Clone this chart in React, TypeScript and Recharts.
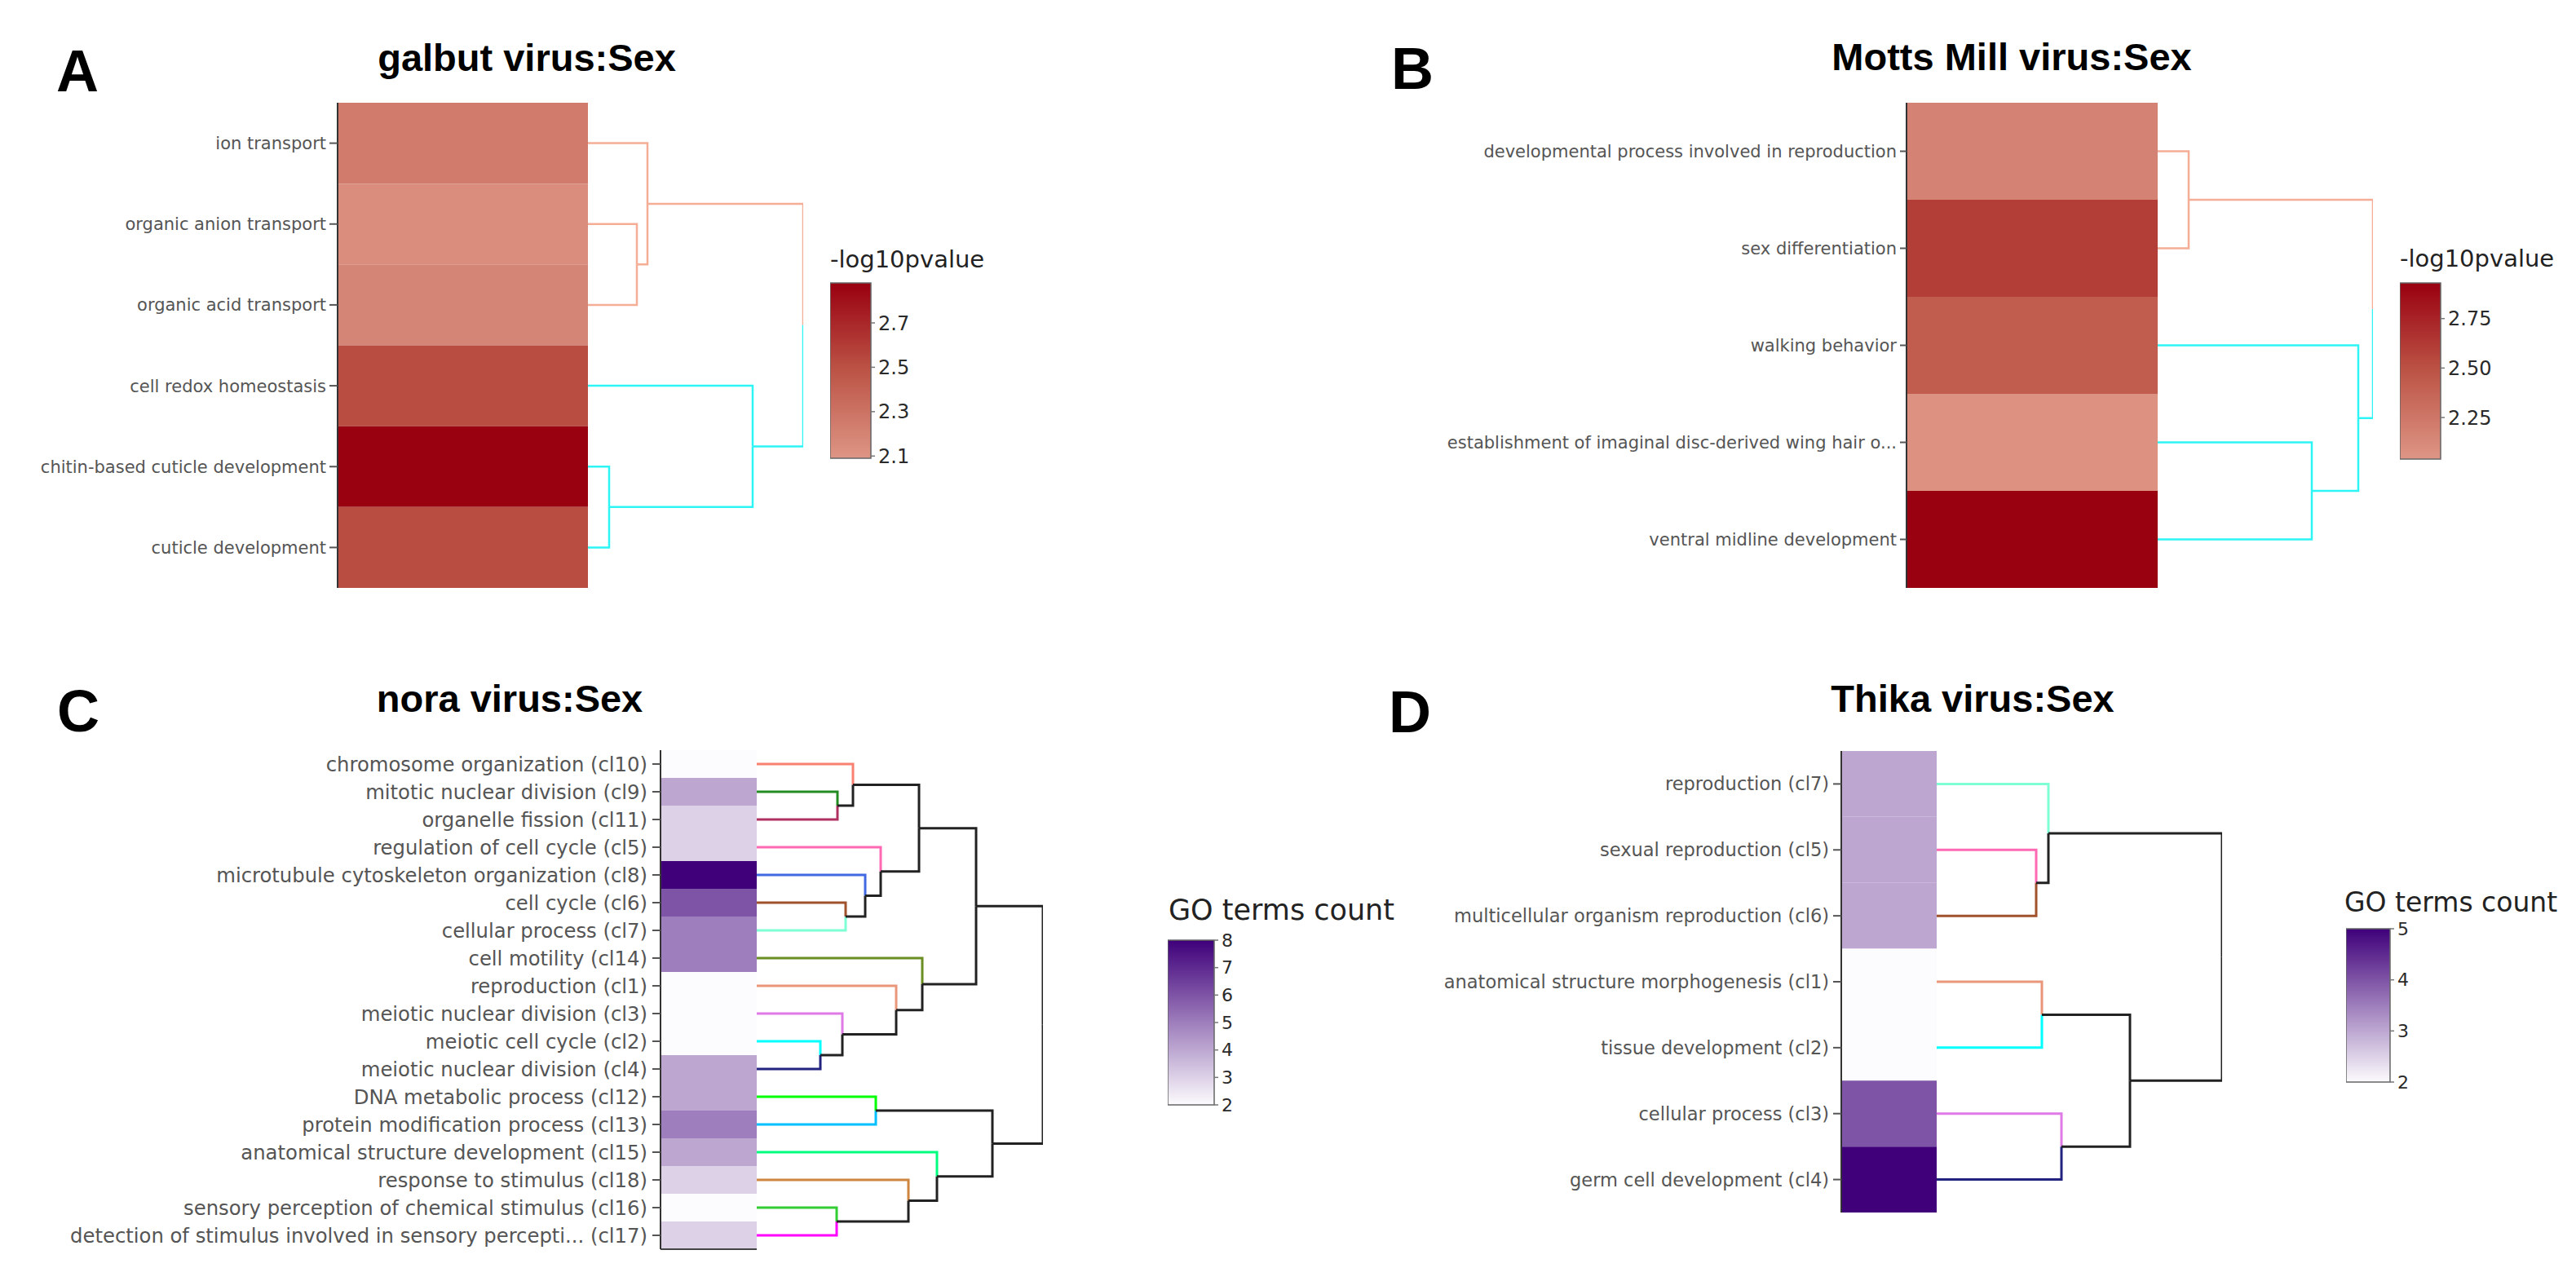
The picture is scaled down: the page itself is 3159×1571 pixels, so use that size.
import React from 'react';
import { ComposedChart, XAxis, YAxis, Line, ReferenceArea, ReferenceLine } from 'recharts';

// ---------------- Data ----------------
// Panel A: galbut virus:Sex
const galbutTerms = [
  'ion transport',
  'organic anion transport',
  'organic acid transport',
  'cell redox homeostasis',
  'chitin-based cuticle development',
  'cuticle development',
];
const galbutLog10p = [2.25, 2.14, 2.19, 2.52, 2.88, 2.52];
// merges: [childA, childB, height]; leaves 0..n-1, merge k is n+k
const galbutMerges: [number, number, number][] = [
  [1, 2, 60], [0, 6, 73], [4, 5, 26], [3, 8, 202], [7, 9, 264],
];
const galbutLeafColors = ['#F5AD96', '#F5AD96', '#F5AD96', '#2EF5F5', '#2EF5F5', '#2EF5F5'];

// Panel B: Motts Mill virus:Sex
const mottsTerms = [
  'developmental process involved in reproduction',
  'sex differentiation',
  'walking behavior',
  'establishment of imaginal disc-derived wing hair o...',
  'ventral midline development',
];
const mottsLog10p = [2.17, 2.6, 2.42, 2.07, 2.93];
const mottsMerges: [number, number, number][] = [
  [0, 1, 38], [3, 4, 189], [2, 6, 246], [5, 7, 264],
];
const mottsLeafColors = ['#F5AD96', '#F5AD96', '#2EF5F5', '#2EF5F5', '#2EF5F5'];

// Panel C: nora virus:Sex
const noraTerms = [
  'chromosome organization (cl10)',
  'mitotic nuclear division (cl9)',
  'organelle fission (cl11)',
  'regulation of cell cycle (cl5)',
  'microtubule cytoskeleton organization (cl8)',
  'cell cycle (cl6)',
  'cellular process (cl7)',
  'cell motility (cl14)',
  'reproduction (cl1)',
  'meiotic nuclear division (cl3)',
  'meiotic cell cycle (cl2)',
  'meiotic nuclear division (cl4)',
  'DNA metabolic process (cl12)',
  'protein modification process (cl13)',
  'anatomical structure development (cl15)',
  'response to stimulus (cl18)',
  'sensory perception of chemical stimulus (cl16)',
  'detection of stimulus involved in sensory percepti... (cl17)',
];
const noraCounts = [2, 4, 3, 3, 8, 6, 5, 5, 2, 2, 2, 4, 4, 5, 4, 3, 2, 3];
const noraMerges: [number, number, number][] = [
  [1, 2, 99], [0, 18, 118], [5, 6, 109], [4, 20, 133], [3, 21, 152], [19, 22, 199],
  [10, 11, 78], [9, 24, 105], [8, 25, 171], [7, 26, 203], [23, 27, 269],
  [12, 13, 146], [16, 17, 98], [15, 30, 186], [14, 31, 221], [29, 32, 289],
  [28, 33, 351],
];
const noraLeafColors = [
  '#FA8072', '#228B22', '#B03060', '#FF69B4', '#4169E1', '#A0522D', '#7FFFD4', '#6B8E23',
  '#E9967A', '#E07AE6', '#00FFFF', '#22227F', '#00FF00', '#00BFFF', '#00FF7F', '#CD853F',
  '#32CD32', '#FF00FF',
];

// Panel D: Thika virus:Sex
const thikaTerms = [
  'reproduction (cl7)',
  'sexual reproduction (cl5)',
  'multicellular organism reproduction (cl6)',
  'anatomical structure morphogenesis (cl1)',
  'tissue development (cl2)',
  'cellular process (cl3)',
  'germ cell development (cl4)',
];
const thikaCounts = [3, 3, 3, 2, 2, 4, 5];
const thikaMerges: [number, number, number][] = [
  [1, 2, 122], [0, 7, 137], [3, 4, 129], [5, 6, 153], [9, 10, 237], [8, 11, 350],
];
const thikaLeafColors = ['#7FFFD4', '#FF69B4', '#A0522D', '#E9967A', '#00FFFF', '#E07AE6', '#22227F'];

// Colour scales
const redStops = ['#DE9585', '#BC5446', '#990010'];
const purpleStops = ['#FCFBFD', '#3F007A'];

// Colorbar ranges and ticks
const galbutRange: [number, number] = [2.09, 2.88];
const galbutTicks = [2.1, 2.3, 2.5, 2.7];
const mottsRange: [number, number] = [2.04, 2.93];
const mottsTicks = [2.25, 2.5, 2.75];
const noraRange: [number, number] = [2, 8];
const noraTicks = [2, 3, 4, 5, 6, 7, 8];
const thikaRange: [number, number] = [2, 5];
const thikaTicks = [2, 3, 4, 5];

// ---------------- Helpers ----------------
const hexToRgb = (h: string) => {
  const v = parseInt(h.slice(1), 16);
  return [(v >> 16) & 255, (v >> 8) & 255, v & 255];
};
const rgbToHex = (c: number[]) =>
  '#' + c.map((x) => Math.round(x).toString(16).padStart(2, '0')).join('');
const scaleColor = (stops: string[], t: number) => {
  const tt = Math.max(0, Math.min(1, t));
  const seg = (stops.length - 1) * tt;
  const i = Math.min(stops.length - 2, Math.floor(seg));
  const f = seg - i;
  const a = hexToRgb(stops[i]);
  const b = hexToRgb(stops[i + 1]);
  return rgbToHex(a.map((x, k) => x + (b[k] - x) * f));
};
const makeScale = (stops: string[], range: [number, number]) => (v: number) =>
  scaleColor(stops, (v - range[0]) / (range[1] - range[0]));

type Link = { points: { x: number; y: number }[]; color: string };
const buildDendro = (n: number, merges: [number, number, number][], leafColors: string[]) => {
  const nodes: { x: number; y: number; color: string }[] = [];
  for (let i = 0; i < n; i++) nodes.push({ x: 0, y: i + 0.5, color: leafColors[i] });
  const links: Link[] = [];
  merges.forEach(([a, b, h]) => {
    const na = nodes[a];
    const nb = nodes[b];
    const y = (na.y + nb.y) / 2;
    [na, nb].forEach((c) => {
      links.push({
        points: [
          { x: c.x, y: c.y },
          { x: h, y: c.y },
          { x: h, y },
        ],
        color: c.color,
      });
    });
    nodes.push({ x: h, y, color: na.color === nb.color ? na.color : '#222222' });
  });
  return links;
};

const SANS = "'DejaVu Sans', Verdana, sans-serif";
const BOLD = "'Liberation Sans', Arial, Helvetica, sans-serif";

type PanelCfg = {
  terms: string[];
  values: number[];
  merges: [number, number, number][];
  leafColors: string[];
  colorOf: (v: number) => string;
  x0: number;
  heatLeft: number;
  heatRight: number;
  top: number;
  bottom: number;
  fontSize: number;
  tickSize: number;
  tickMargin: number;
  lineWidth: number;
  bottomLine?: boolean;
};

const HeatDendro = ({ cfg }: { cfg: PanelCfg }) => {
  const n = cfg.terms.length;
  const links = buildDendro(n, cfg.merges, cfg.leafColors);
  const hmW = cfg.heatRight - cfg.heatLeft;
  const rootH = cfg.merges[cfg.merges.length - 1][2];
  const yW = cfg.heatLeft - cfg.x0;
  const width = yW + hmW + rootH + 12;
  const height = cfg.bottom - cfg.top + 40;
  const ticks = cfg.terms.map((_, i) => i + 0.5);
  return (
    <div style={{ position: 'absolute', left: cfg.x0, top: cfg.top - 20 }}>
      <ComposedChart width={width} height={height} margin={{ top: 20, right: 12, bottom: 20, left: 0 }}>
        <XAxis type="number" dataKey="x" domain={[-hmW, rootH]} hide allowDataOverflow />
        <YAxis
          type="number"
          domain={[0, n]}
          reversed
          allowDataOverflow
          ticks={ticks}
          interval={0}
          width={yW}
          tickFormatter={(v: number) => cfg.terms[Math.floor(v)]}
          tick={{ fill: '#555555', fontSize: cfg.fontSize, fontFamily: SANS }}
          tickSize={cfg.tickSize}
          tickMargin={cfg.tickMargin}
          axisLine={{ stroke: '#333333', strokeWidth: 2 }}
          tickLine={{ stroke: '#555555', strokeWidth: 2 }}
        />
        {cfg.values.map((v, i) => (
          <ReferenceArea
            key={'c' + i}
            x1={-hmW}
            x2={0}
            y1={i}
            y2={i + 1}
            fill={cfg.colorOf(v)}
            fillOpacity={1}
            stroke="none"
            ifOverflow="visible"
          />
        ))}
        {cfg.bottomLine && (
          <ReferenceLine
            segment={[{ x: -hmW, y: n }, { x: 0, y: n }]}
            stroke="#444444"
            strokeWidth={2}
            ifOverflow="visible"
          />
        )}
        {links.map((l, i) => (
          <Line
            key={'l' + i}
            data={l.points}
            dataKey="y"
            type="linear"
            stroke={l.color}
            strokeWidth={cfg.lineWidth}
            dot={false}
            activeDot={false}
            isAnimationActive={false}
            legendType="none"
          />
        ))}
      </ComposedChart>
    </div>
  );
};

type BarCfg = {
  id: string;
  x: number;
  y: number;
  w: number;
  h: number;
  range: [number, number];
  ticks: number[];
  stops: string[];
  digits: number;
  fontSize: number;
};

const ColorBar = ({ cb }: { cb: BarCfg }) => {
  const samples = Array.from({ length: 21 }, (_, k) => k / 20);
  const frame = [
    { x: 0, y: cb.range[0] },
    { x: 1, y: cb.range[1] },
  ];
  return (
    <div style={{ position: 'absolute', left: cb.x, top: cb.y - 20 }}>
      <ComposedChart
        width={cb.w + 90}
        height={cb.h + 40}
        data={frame}
        margin={{ top: 20, right: 0, bottom: 20, left: 0 }}
      >
        <defs>
          <linearGradient id={cb.id} x1="0" y1="0" x2="0" y2="1">
            {samples.map((t) => (
              <stop key={t} offset={`${t * 100}%`} stopColor={scaleColor(cb.stops, 1 - t)} />
            ))}
          </linearGradient>
        </defs>
        <XAxis type="number" dataKey="x" domain={[0, 1]} hide allowDataOverflow />
        <YAxis
          type="number"
          orientation="right"
          domain={cb.range}
          allowDataOverflow
          ticks={cb.ticks}
          interval={0}
          width={90}
          axisLine={false}
          tickLine={{ stroke: '#777777', strokeWidth: 1.5 }}
          tickSize={5}
          tickMargin={4}
          tick={{ fill: '#2a2a2a', fontSize: cb.fontSize, fontFamily: SANS }}
          tickFormatter={(v: number) => v.toFixed(cb.digits)}
        />
        <ReferenceArea
          x1={0}
          x2={1}
          y1={cb.range[0]}
          y2={cb.range[1]}
          fill={`url(#${cb.id})`}
          fillOpacity={1}
          stroke="#666666"
          strokeWidth={1.5}
          ifOverflow="visible"
        />
        <Line
          dataKey="y"
          stroke="none"
          dot={false}
          activeDot={false}
          isAnimationActive={false}
          legendType="none"
        />
      </ComposedChart>
    </div>
  );
};

const panels: PanelCfg[] = [
  {
    terms: galbutTerms, values: galbutLog10p, merges: galbutMerges, leafColors: galbutLeafColors,
    colorOf: makeScale(redStops, galbutRange),
    x0: 0, heatLeft: 414, heatRight: 721, top: 126, bottom: 721,
    fontSize: 21, tickSize: 10, tickMargin: 4, lineWidth: 2.5,
  },
  {
    terms: mottsTerms, values: mottsLog10p, merges: mottsMerges, leafColors: mottsLeafColors,
    colorOf: makeScale(redStops, mottsRange),
    x0: 1580, heatLeft: 2338, heatRight: 2646, top: 126, bottom: 721,
    fontSize: 21, tickSize: 8, tickMargin: 4, lineWidth: 2.5,
  },
  {
    terms: noraTerms, values: noraCounts, merges: noraMerges, leafColors: noraLeafColors,
    colorOf: makeScale(purpleStops, noraRange),
    x0: 0, heatLeft: 810, heatRight: 928, top: 920, bottom: 1532,
    fontSize: 24.3, tickSize: 10, tickMargin: 6, lineWidth: 3, bottomLine: true,
  },
  {
    terms: thikaTerms, values: thikaCounts, merges: thikaMerges, leafColors: thikaLeafColors,
    colorOf: makeScale(purpleStops, thikaRange),
    x0: 1580, heatLeft: 2258, heatRight: 2375, top: 921, bottom: 1487,
    fontSize: 22.5, tickSize: 10, tickMargin: 5, lineWidth: 3,
  },
];

const bars: BarCfg[] = [
  { id: 'gA', x: 1018, y: 347, w: 50, h: 215, range: galbutRange, ticks: galbutTicks, stops: redStops, digits: 1, fontSize: 24 },
  { id: 'gB', x: 2943, y: 347, w: 50, h: 216, range: mottsRange, ticks: mottsTicks, stops: redStops, digits: 2, fontSize: 24 },
  { id: 'gC', x: 1432, y: 1153, w: 57, h: 202, range: noraRange, ticks: noraTicks, stops: purpleStops, digits: 0, fontSize: 22 },
  { id: 'gD', x: 2877, y: 1139, w: 54, h: 188, range: thikaRange, ticks: thikaTicks, stops: purpleStops, digits: 0, fontSize: 22 },
];

const letters = [
  { t: 'A', x: 69, y: 112 },
  { t: 'B', x: 1706, y: 109 },
  { t: 'C', x: 70, y: 897 },
  { t: 'D', x: 1703, y: 898 },
];
const titles = [
  { t: 'galbut virus:Sex', x: 646, y: 87 },
  { t: 'Motts Mill virus:Sex', x: 2467, y: 86 },
  { t: 'nora virus:Sex', x: 625, y: 873 },
  { t: 'Thika virus:Sex', x: 2419, y: 873 },
];
const legendTitles = [
  { t: '-log10pvalue', x: 1018, y: 328, s: 29 },
  { t: '-log10pvalue', x: 2943, y: 327, s: 29 },
  { t: 'GO terms count', x: 1433, y: 1128, s: 35 },
  { t: 'GO terms count', x: 2875, y: 1118, s: 33 },
];

export default function App() {
  return (
    <div style={{ position: 'absolute', left: 0, top: 0, width: 3159, height: 1571, background: '#ffffff', overflow: 'hidden' }}>
      {panels.map((p, i) => (
        <HeatDendro key={i} cfg={p} />
      ))}
      {bars.map((b) => (
        <ColorBar key={b.id} cb={b} />
      ))}
      <svg width={3159} height={1571} style={{ position: 'absolute', left: 0, top: 0, pointerEvents: 'none' }}>
        {letters.map((l) => (
          <text key={l.t} x={l.x} y={l.y} fontFamily={BOLD} fontWeight="bold" fontSize={72} fill="#000">
            {l.t}
          </text>
        ))}
        {titles.map((l) => (
          <text key={l.t} x={l.x} y={l.y} textAnchor="middle" fontFamily={BOLD} fontWeight="bold" fontSize={47} fill="#000">
            {l.t}
          </text>
        ))}
        {legendTitles.map((l, i) => (
          <text key={i} x={l.x} y={l.y} fontFamily={SANS} fontSize={l.s} fill="#222">
            {l.t}
          </text>
        ))}
      </svg>
    </div>
  );
}
